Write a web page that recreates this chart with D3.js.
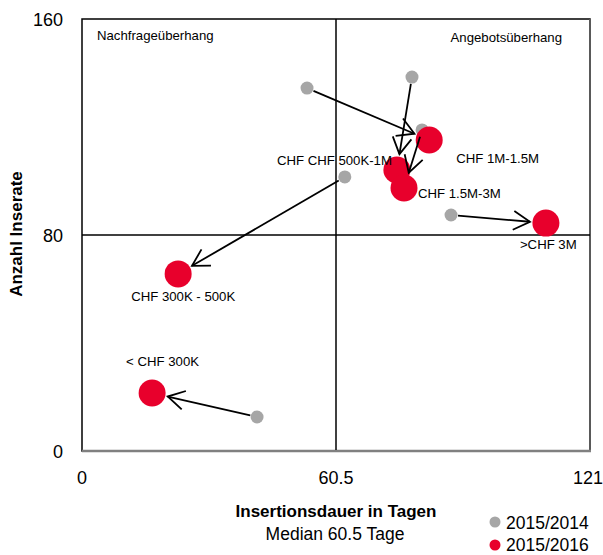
<!DOCTYPE html>
<html><head><meta charset="utf-8">
<script src="https://cdn.jsdelivr.net/npm/d3@7"></script>
<style>
body{margin:0;background:#fff;}
text{font-family:"Liberation Sans",Arial,sans-serif;}
</style></head>
<body><svg id="c" width="603" height="555"></svg>
<script>
const categories = ["CHF 1M-1.5M","CHF CHF 500K-1M","CHF 1.5M-3M",">CHF 3M","CHF 300K - 500K","< CHF 300K"];
const days2014 = [53.6, 78.6, 81.0, 87.9, 62.6, 41.7];
const count2014 = [134.4, 138.5, 118.9, 87.4, 101.5, 12.6];
const days2016 = [82.7, 75.0, 76.7, 110.5, 22.9, 16.7];
const count2016 = [115.2, 104.1, 97.4, 84.4, 65.6, 21.5];
const xTicks = [0, 60.5, 121];
const yTicks = [0, 80, 160];
const seriesNames = ["2015/2014","2015/2016"];
const seriesColors = ["#a6a6a6","#e8002c"];
// label placement offsets (px) relative to red point
const labelDx = [27, -120, 14, -26, -47, -26];
const labelDy = [23, -5, 10, 26, 27, -27];

const svg = d3.select("#c");
const x = d3.scaleLinear().domain([0,121]).range([82,590]);
const y = d3.scaleLinear().domain([0,160]).range([451,19]);

// frame
svg.append("rect").attr("x",x(0)).attr("y",y(160)).attr("width",x(121)-x(0)).attr("height",y(0)-y(160))
  .attr("fill","none").attr("stroke","#000").attr("stroke-width",1.5);
svg.append("line").attr("x1",x(121)).attr("x2",x(121)).attr("y1",y(160)).attr("y2",y(0)).attr("stroke","#595959").attr("stroke-width",2);
svg.append("line").attr("x1",x(0)).attr("x2",x(121)+1).attr("y1",y(0)).attr("y2",y(0)).attr("stroke","#808080").attr("stroke-width",2.5);
// median lines
svg.append("line").attr("x1",x(60.5)).attr("x2",x(60.5)).attr("y1",y(160)).attr("y2",y(0)-1).attr("stroke","#000").attr("stroke-width",1.5);
svg.append("line").attr("x1",x(0)).attr("x2",x(121)).attr("y1",y(80)).attr("y2",y(80)).attr("stroke","#000").attr("stroke-width",1.5);

// tick labels
svg.selectAll(".yt").data(yTicks).enter().append("text").attr("x",63).attr("y",d=>y(d)+6.5)
  .attr("text-anchor","end").attr("font-size",18).attr("fill","#000").text(d=>d);
svg.selectAll(".xt").data(xTicks).enter().append("text")
  .attr("x",(d,i)=> i===xTicks.length-1 ? 603 : x(d)).attr("y",484)
  .attr("text-anchor",(d,i)=> i===xTicks.length-1 ? "end" : "middle").attr("font-size",18).attr("fill","#000").text(d=>d);

// axis titles
svg.append("text").attr("x",336).attr("y",517).attr("text-anchor","middle").attr("font-size",17).attr("font-weight","bold").text("Insertionsdauer in Tagen");
svg.append("text").attr("x",335).attr("y",540).attr("text-anchor","middle").attr("font-size",17.5).text("Median 60.5 Tage");
svg.append("text").attr("transform","translate(22,234) rotate(-90)").attr("text-anchor","middle").attr("font-size",17).attr("font-weight","bold").text("Anzahl Inserate");

// quadrant labels
svg.append("text").attr("x",97).attr("y",40).attr("font-size",13.2).text("Nachfrageüberhang");
svg.append("text").attr("x",562).attr("y",42).attr("text-anchor","end").attr("font-size",13.2).text("Angebotsüberhang");

// gray points
svg.selectAll(".g").data(categories).enter().append("circle")
  .attr("cx",(d,i)=>x(days2014[i])).attr("cy",(d,i)=>y(count2014[i])).attr("r",6.5).attr("fill",seriesColors[0]);

// red points
svg.selectAll(".r").data(categories).enter().append("circle")
  .attr("cx",(d,i)=>x(days2016[i])).attr("cy",(d,i)=>y(count2016[i])).attr("r",13.5).attr("fill",seriesColors[1]);

// arrows
categories.forEach((c,i)=>{
  const x1=x(days2014[i]), y1=y(count2014[i]), x2=x(days2016[i]), y2=y(count2016[i]);
  const dx=x2-x1, dy=y2-y1, L=Math.hypot(dx,dy), ux=dx/L, uy=dy/L;
  const sx=x1+ux*7, sy=y1+uy*7;
  const ex=x2-ux*16, ey=y2-uy*16;
  svg.append("line").attr("x1",sx).attr("y1",sy).attr("x2",ex).attr("y2",ey).attr("stroke","#000").attr("stroke-width",1.8);
  const a=Math.atan2(dy,dx), h=19, s=0.52;
  const p=[[ex-h*Math.cos(a-s), ey-h*Math.sin(a-s)],[ex,ey],[ex-h*Math.cos(a+s), ey-h*Math.sin(a+s)]];
  svg.append("path").attr("d",d3.line()(p)).attr("fill","none").attr("stroke","#000").attr("stroke-width",1.8);
});

// category labels
svg.selectAll(".lb").data(categories).enter().append("text")
  .attr("x",(d,i)=>x(days2016[i])+labelDx[i]).attr("y",(d,i)=>y(count2016[i])+labelDy[i])
  .attr("font-size",13.2).attr("fill","#000").text(d=>d);

// legend
seriesNames.forEach((n,i)=>{
  svg.append("circle").attr("cx",495).attr("cy",522+i*23).attr("r",5.5).attr("fill",seriesColors[i]);
  svg.append("text").attr("x",506).attr("y",529+i*22).attr("font-size",17.5).text(n);
});
</script></body></html>
